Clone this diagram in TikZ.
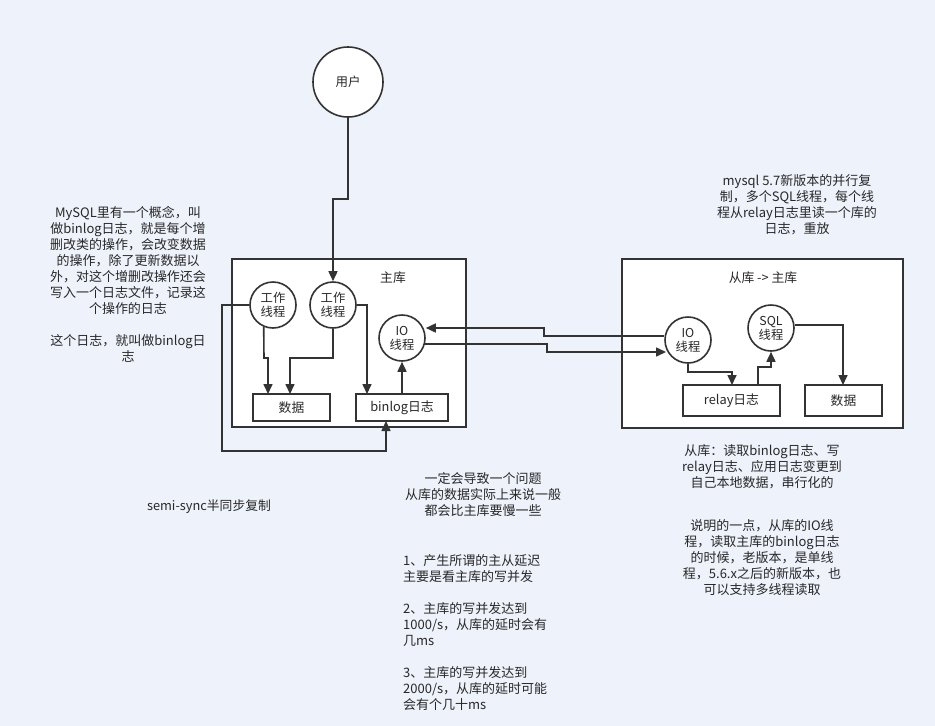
\documentclass[tikz,border=0pt]{standalone}
\usepackage{fontspec}
\setmainfont{Noto Sans CJK SC}
\usetikzlibrary{arrows.meta}
\definecolor{bgc}{RGB}{238,242,250}
\definecolor{ink}{RGB}{51,51,51}
\definecolor{txt}{RGB}{40,40,40}
\tikzset{
  circ/.style={circle,draw=ink,line width=1.6pt,fill=white,minimum size=46pt,inner sep=0pt,align=center,font=\fontsize{12.3}{14}\selectfont,text=txt},
  bigcirc/.style={circle,draw=ink,line width=1.6pt,fill=white,minimum size=70pt,inner sep=0pt,font=\fontsize{12.5}{14}\selectfont,text=txt},
  frame/.style={draw=ink,line width=1.6pt,fill=white},
  rbox/.style={draw=ink,line width=1.6pt,fill=white,inner sep=0pt,font=\fontsize{12.8}{14}\selectfont,text=txt},
  conn/.style={draw=ink,line width=1.6pt,-{Triangle[length=10pt,width=9pt]}},
  note/.style={align=center,font=\fontsize{13}{16}\selectfont,text=txt,inner sep=0pt},
  notel/.style={align=left,font=\fontsize{13}{16}\selectfont,text=txt,inner sep=0pt},
  lbl/.style={font=\fontsize{12.8}{14}\selectfont,text=txt,inner sep=0pt}
}
\begin{document}
\begin{tikzpicture}[x=1pt,y=-1pt]
\fill[bgc] (0,0) rectangle (935,726);
\useasboundingbox (0,0) rectangle (935,726);
% frames
\draw[frame] (232,259) rectangle (466,427);
\draw[frame] (622,259) rectangle (903,428);
\node[lbl] (mlabel) at (393,278) {主库};
\node[lbl] (slabel) at (763,278) {从库 -> 主库};
% user
\node[bigcirc] (user) at (348,82) {用户};
% master nodes
\node[circ] (w1) at (273,305) {工作\\线程};
\node[circ] (w2) at (333,305) {工作\\线程};
\node[circ] (mio) at (402,338) {IO\\线程};
\node[rbox,minimum width=77pt,minimum height=27pt] (data1) at (291.5,407.5) {数据};
\node[rbox,minimum width=92pt,minimum height=27pt] (binlog) at (402,407.5) {binlog日志};
% slave nodes
\node[circ] (sio) at (688,340) {IO\\线程};
\node[circ] (sql) at (771,328) {SQL\\线程};
\node[rbox,minimum width=97pt,minimum height=31pt] (relay) at (731.5,400.5) {relay日志};
\node[rbox,minimum width=77pt,minimum height=31pt] (data2) at (843.5,400.5) {数据};
% connectors
\draw[conn] (user.south) |- (333,199) -| (w2.north);
\draw[conn] (w1.-113) -- (264,358) -| (268,394);
\draw[conn] (w2.south) |- (290,358) -- (290,394);
\draw[conn] (w2.east) -| (367,394);
\draw[conn] (binlog.north) -- (mio.south);
\draw[conn] (w1.west) -| (222,451) -| (386,421);
\draw[conn] (sio.west |- 0,336) -- (544,336) |- (mio.east |- 0,328);
\coordinate (mioe) at (424,344);
\draw[conn] (mioe) -| (547,352) -- (666,352);
\draw[conn] (sio.south) |- (732,372) -- (732,385);
\draw[conn] (758,385) |- (771,367) -- (sql.south);
\draw[conn] (sql.east |- 0,325) -| (843,385);
% notes
\node[note,anchor=north] (n1) at (128,206) {MySQL里有一个概念，叫\\做binlog日志，就是每个增\\删改类的操作，会改变数据\\的操作，除了更新数据以\\外，对这个增删改操作还会\\写入一个日志文件，记录这\\个操作的日志\\[16pt]这个日志，就叫做binlog日\\志};
\node[note,anchor=north] (n2) at (797,174) {mysql 5.7新版本的并行复\\制，多个SQL线程，每个线\\程从relay日志里读一个库的\\日志，重放};
\node[note,anchor=north] (n3) at (762,444) {从库：读取binlog日志、写\\relay日志、应用日志变更到\\自己本地数据，串行化的};
\node[note,anchor=north] (n4) at (762,519) {说明的一点，从库的IO线\\程，读取主库的binlog日志\\的时候，老版本，是单线\\程，5.6.x之后的新版本，也\\可以支持多线程读取};
\node[note,anchor=north] (n5) at (483,472) {一定会导致一个问题\\从库的数据实际上来说一般\\都会比主库要慢一些};
\node[notel,anchor=north west] (n6) at (403,554) {1、产生所谓的主从延迟\\主要是看主库的写并发\\[16pt]2、主库的写并发达到\\1000/s，从库的延时会有\\几ms\\[16pt]3、主库的写并发达到\\2000/s，从库的延时可能\\会有个几十ms};
\node[lbl] (n7) at (209,507) {semi-sync半同步复制};
\end{tikzpicture}
\end{document}
